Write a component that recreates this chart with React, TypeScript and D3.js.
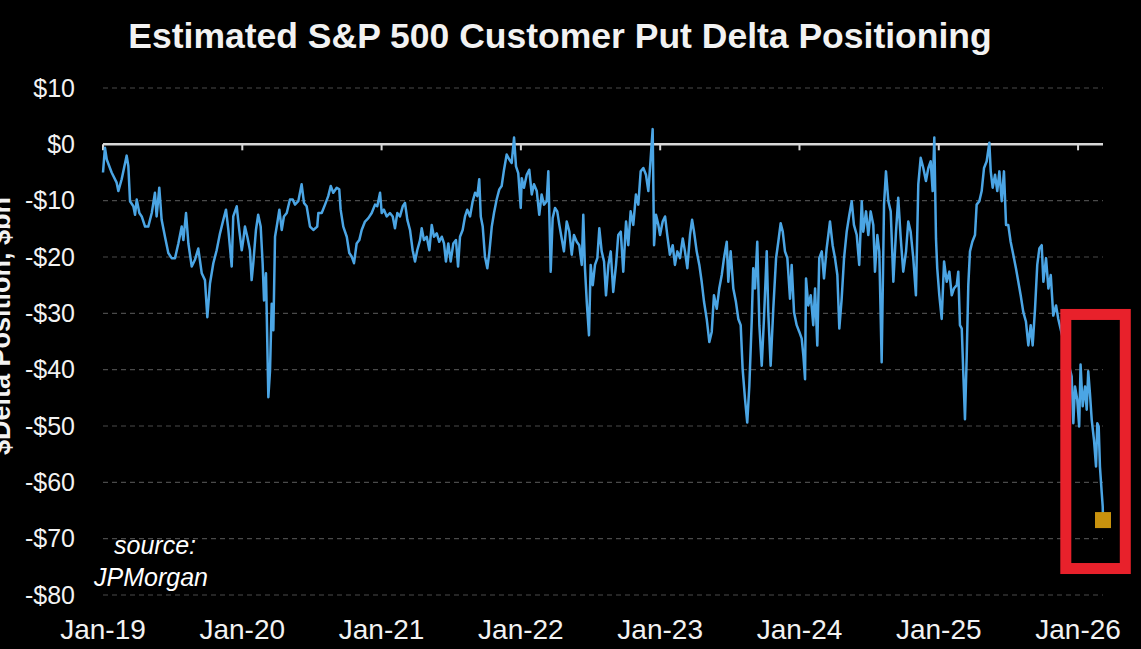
import React, { useEffect, useRef } from 'react';
import * as d3 from 'd3';

type Pt = [number, number]; // [decimal year, $bn]

// Estimated customer put delta
const series2019: Pt[] = [
  [2019.000, -5.0], [2019.014, -0.6], [2019.027, -2.7], [2019.062, -5.0], [2019.098, -6.8],
  [2019.110, -8.3], [2019.134, -6.2], [2019.170, -2.0], [2019.182, -3.9], [2019.194, -10.1],
  [2019.218, -11.0], [2019.230, -12.5], [2019.242, -9.8], [2019.261, -12.2], [2019.278, -12.8],
  [2019.302, -14.6], [2019.325, -14.6], [2019.350, -12.2], [2019.373, -8.6], [2019.385, -12.8],
  [2019.404, -7.7], [2019.421, -13.4], [2019.445, -16.4], [2019.469, -19.3], [2019.493, -20.2],
  [2019.517, -20.2], [2019.541, -17.6], [2019.565, -14.6], [2019.577, -17.0], [2019.596, -12.2],
  [2019.613, -17.6], [2019.637, -21.7], [2019.660, -20.5], [2019.684, -18.5], [2019.709, -22.9],
  [2019.732, -24.1], [2019.749, -30.7], [2019.768, -24.7], [2019.792, -21.1], [2019.816, -18.8],
  [2019.840, -15.8], [2019.864, -13.4], [2019.883, -11.6], [2019.900, -15.2], [2019.924, -21.7],
  [2019.935, -12.8], [2019.960, -11.0], [2019.978, -15.2], [2019.996, -18.8],
];

const series2020: Pt[] = [
  [2020.007, -17.0], [2020.019, -14.6], [2020.036, -16.4], [2020.055, -18.8], [2020.067, -24.1],
  [2020.079, -21.1], [2020.098, -15.2], [2020.114, -12.5], [2020.132, -14.6], [2020.146, -21.1],
  [2020.156, -27.7], [2020.170, -22.9], [2020.187, -44.9], [2020.199, -40.2], [2020.211, -28.3],
  [2020.223, -33.0], [2020.235, -16.4], [2020.251, -14.0], [2020.266, -11.6], [2020.283, -15.2],
  [2020.299, -12.8], [2020.319, -12.2], [2020.342, -9.8], [2020.362, -9.8], [2020.378, -10.7],
  [2020.402, -10.1], [2020.426, -7.1], [2020.443, -10.4], [2020.462, -11.0], [2020.486, -14.6],
  [2020.510, -15.2], [2020.538, -14.6], [2020.546, -12.2], [2020.570, -12.2], [2020.594, -10.7],
  [2020.617, -9.2], [2020.635, -7.4], [2020.653, -8.6], [2020.678, -7.7], [2020.696, -8.0],
  [2020.706, -11.6], [2020.725, -14.6], [2020.750, -16.4], [2020.768, -19.3], [2020.785, -19.9],
  [2020.802, -21.1], [2020.821, -17.6], [2020.840, -17.0], [2020.857, -15.2], [2020.881, -13.7],
  [2020.905, -13.1], [2020.929, -12.2], [2020.953, -10.7], [2020.969, -11.0], [2020.989, -8.6],
];

const series2021: Pt[] = [
  [2021.001, -12.2], [2021.017, -11.6], [2021.037, -12.8], [2021.060, -12.2], [2021.080, -12.8],
  [2021.096, -14.9], [2021.113, -12.2], [2021.132, -12.8], [2021.152, -11.0], [2021.168, -10.4],
  [2021.185, -13.4], [2021.204, -15.2], [2021.223, -18.8], [2021.240, -20.8], [2021.256, -18.8],
  [2021.276, -17.0], [2021.288, -14.9], [2021.304, -17.0], [2021.324, -16.4], [2021.343, -18.8],
  [2021.360, -14.3], [2021.376, -16.4], [2021.396, -15.8], [2021.414, -17.3], [2021.432, -16.4],
  [2021.448, -17.6], [2021.462, -20.8], [2021.479, -17.6], [2021.496, -20.8], [2021.515, -17.6],
  [2021.534, -17.0], [2021.549, -21.7], [2021.563, -16.4], [2021.582, -15.2], [2021.599, -12.8],
  [2021.615, -11.6], [2021.635, -12.8], [2021.654, -10.1], [2021.671, -8.6], [2021.687, -9.2],
  [2021.701, -6.2], [2021.712, -12.8], [2021.726, -14.6], [2021.742, -19.9], [2021.759, -22.0],
  [2021.773, -19.3], [2021.791, -14.6], [2021.807, -12.2], [2021.826, -9.8], [2021.845, -8.0],
  [2021.862, -7.4], [2021.879, -4.5], [2021.898, -1.8], [2021.917, -2.7], [2021.934, -3.3],
  [2021.951, 1.2], [2021.965, -3.9], [2021.981, -5.1], [2021.999, -11.3],
];

const series2022: Pt[] = [
  [2022.006, -6.0], [2022.022, -7.7], [2022.042, -5.4], [2022.060, -4.5], [2022.078, -8.9],
  [2022.094, -7.1], [2022.114, -8.3], [2022.132, -12.5], [2022.149, -8.9], [2022.166, -10.7],
  [2022.185, -10.1], [2022.197, -4.8], [2022.214, -22.6], [2022.228, -13.1], [2022.245, -11.3],
  [2022.261, -11.9], [2022.276, -14.3], [2022.293, -16.7], [2022.309, -19.0], [2022.329, -13.7],
  [2022.348, -15.5], [2022.365, -19.6], [2022.381, -16.1], [2022.401, -17.3], [2022.419, -17.9],
  [2022.437, -21.4], [2022.448, -12.5], [2022.460, -22.0], [2022.473, -28.0], [2022.489, -33.9],
  [2022.501, -21.4], [2022.516, -25.0], [2022.532, -21.4], [2022.549, -20.2], [2022.563, -14.9],
  [2022.580, -19.0], [2022.597, -20.8], [2022.611, -26.8], [2022.628, -21.4], [2022.645, -19.0],
  [2022.663, -26.2], [2022.683, -21.4], [2022.699, -16.1], [2022.717, -15.5], [2022.735, -22.6],
  [2022.755, -13.7], [2022.771, -17.9], [2022.788, -11.9], [2022.807, -14.3], [2022.826, -8.9],
  [2022.843, -10.7], [2022.860, -4.8], [2022.879, -4.2], [2022.898, -5.4], [2022.915, -8.3],
  [2022.932, -2.4], [2022.946, 2.7], [2022.956, -17.9], [2022.970, -12.5], [2022.987, -14.3],
];

const series2023: Pt[] = [
  [2022.999, -16.1], [2023.018, -13.7], [2023.035, -12.8], [2023.051, -16.1], [2023.070, -19.6],
  [2023.090, -17.9], [2023.106, -21.4], [2023.123, -19.0], [2023.142, -20.2], [2023.162, -16.7],
  [2023.178, -19.0], [2023.195, -22.0], [2023.214, -16.1], [2023.229, -13.4], [2023.243, -15.5],
  [2023.262, -19.0], [2023.281, -21.4], [2023.298, -24.4], [2023.315, -28.0], [2023.334, -31.0],
  [2023.353, -35.1], [2023.370, -33.3], [2023.386, -26.8], [2023.406, -29.2], [2023.424, -25.6],
  [2023.442, -23.2], [2023.458, -20.2], [2023.478, -17.3], [2023.489, -24.4], [2023.506, -19.0],
  [2023.525, -25.6], [2023.544, -28.0], [2023.561, -31.0], [2023.578, -32.1], [2023.592, -39.9],
  [2023.609, -45.2], [2023.625, -49.4], [2023.640, -42.9], [2023.657, -31.5], [2023.668, -22.0],
  [2023.681, -25.6], [2023.697, -17.3], [2023.712, -32.1], [2023.729, -39.3], [2023.745, -31.0],
  [2023.765, -19.0], [2023.776, -29.8], [2023.793, -39.3], [2023.812, -29.2], [2023.832, -20.2],
  [2023.848, -17.3], [2023.865, -14.0], [2023.880, -15.5], [2023.896, -19.0], [2023.913, -20.2],
  [2023.932, -27.4], [2023.944, -21.4], [2023.961, -29.8], [2023.980, -32.1], [2023.999, -33.3],
];

const series2024: Pt[] = [
  [2024.016, -34.5], [2024.028, -37.5], [2024.040, -41.7], [2024.047, -23.8], [2024.063, -28.6],
  [2024.081, -26.8], [2024.099, -32.1], [2024.112, -25.6], [2024.128, -35.7], [2024.142, -20.2],
  [2024.160, -19.0], [2024.176, -23.8], [2024.195, -18.5], [2024.219, -13.7], [2024.238, -17.9],
  [2024.255, -20.2], [2024.272, -23.2], [2024.286, -32.7], [2024.303, -27.4], [2024.320, -20.2],
  [2024.339, -15.5], [2024.358, -12.5], [2024.375, -10.1], [2024.391, -14.3], [2024.411, -16.1],
  [2024.429, -21.4], [2024.447, -10.1], [2024.458, -15.5], [2024.478, -11.9], [2024.494, -16.1],
  [2024.511, -11.9], [2024.530, -14.3], [2024.542, -22.6], [2024.559, -16.1], [2024.573, -19.0],
  [2024.590, -38.7], [2024.607, -10.7], [2024.621, -4.8], [2024.638, -10.1], [2024.655, -11.9],
  [2024.674, -24.4], [2024.693, -15.5], [2024.709, -9.5], [2024.727, -16.7], [2024.745, -22.6],
  [2024.765, -19.0], [2024.781, -13.7], [2024.798, -15.5], [2024.817, -20.2], [2024.836, -26.8],
  [2024.853, -7.1], [2024.870, -2.4], [2024.889, -4.2], [2024.908, -6.5], [2024.925, -4.2],
  [2024.942, -3.0], [2024.956, -8.3], [2024.968, 1.2], [2024.980, -16.7], [2024.989, -22.0],
];

const series2025: Pt[] = [
  [2025.004, -26.8], [2025.021, -31.0], [2025.038, -20.8], [2025.057, -24.4], [2025.076, -22.6],
  [2025.093, -26.8], [2025.109, -25.6], [2025.129, -25.0], [2025.140, -22.6], [2025.152, -32.1],
  [2025.165, -32.7], [2025.176, -40.5], [2025.188, -48.8], [2025.200, -38.1], [2025.212, -25.0],
  [2025.224, -19.0], [2025.241, -17.3], [2025.260, -16.1], [2025.272, -10.7], [2025.291, -10.1],
  [2025.308, -8.3], [2025.325, -4.2], [2025.344, -3.0], [2025.363, 0.3], [2025.373, -4.8],
  [2025.387, -7.7], [2025.404, -5.4], [2025.420, -8.3], [2025.435, -4.8], [2025.452, -10.1],
  [2025.468, -4.8], [2025.483, -14.3], [2025.499, -14.3], [2025.516, -17.3], [2025.535, -19.6],
  [2025.554, -22.0], [2025.571, -24.4], [2025.588, -26.8], [2025.607, -29.8], [2025.626, -31.5],
  [2025.643, -35.7], [2025.660, -32.1], [2025.674, -35.7], [2025.691, -29.2], [2025.707, -21.4],
  [2025.722, -18.5], [2025.739, -17.9], [2025.751, -24.4], [2025.770, -20.2], [2025.787, -25.6],
  [2025.804, -23.2], [2025.822, -30.4], [2025.842, -28.6], [2025.858, -31.0], [2025.954, -41.2],
  [2025.966, -49.5], [2025.978, -43.0], [2025.994, -45.3],
];

const series2026: Pt[] = [
  [2026.008, -50.1], [2026.018, -39.1], [2026.033, -46.5], [2026.050, -43.0], [2026.062, -47.1],
  [2026.073, -40.3], [2026.085, -44.1], [2026.098, -48.9], [2026.114, -52.4], [2026.129, -57.2],
  [2026.138, -49.5], [2026.148, -50.1], [2026.157, -57.2], [2026.170, -61.9], [2026.177, -64.3],
  [2026.179, -66.7],
];

const yTicks = [10, 0, -10, -20, -30, -40, -50, -60, -70, -80];
const yTickLabels = ['$10', '$0', '-$10', '-$20', '-$30', '-$40', '-$50', '-$60', '-$70', '-$80'];
const xTickYears = [2019, 2020, 2021, 2022, 2023, 2024, 2025, 2026];
const xTickLabels = ['Jan-19', 'Jan-20', 'Jan-21', 'Jan-22', 'Jan-23', 'Jan-24', 'Jan-25', 'Jan-26'];

// red highlight around the latest move (years / $bn)
const highlightYears = [2025.912, 2026.339];
const highlightValues = [-30.2, -75.3];

const TITLE = 'Estimated S&P 500 Customer Put Delta Positioning';
const Y_LABEL = '$Delta Position, $bn';

const W = 1141;
const H = 649;
const FONT = '"Liberation Sans", Arial, sans-serif';

const App: React.FC = () => {
  const svgRef = useRef<SVGSVGElement>(null);

  useEffect(() => {
    if (!svgRef.current) return;
    const svg = d3.select(svgRef.current);
    svg.selectAll('*').remove();

    const data: Pt[] = [
      ...series2019, ...series2020, ...series2021, ...series2022,
      ...series2023, ...series2024, ...series2025, ...series2026,
    ];
    const last = data[data.length - 1];

    const x = d3.scaleLinear().domain([2019, last[0]]).range([103, 1103]);
    const y = d3.scaleLinear().domain([-80, 10]).range([595, 88]);

    svg.append('rect').attr('width', W).attr('height', H).attr('fill', '#000');

    // dashed gridlines
    svg.append('g')
      .selectAll('line')
      .data(yTicks.filter((v) => v !== 0))
      .join('line')
      .attr('x1', x(2019))
      .attr('x2', x(last[0]))
      .attr('y1', (d) => y(d))
      .attr('y2', (d) => y(d))
      .attr('stroke', '#4a4a4a')
      .attr('stroke-width', 1.2)
      .attr('stroke-dasharray', '5,4');

    // zero axis with year ticks
    const axis = svg.append('g');
    axis.append('line')
      .attr('x1', x(2019)).attr('x2', x(last[0]))
      .attr('y1', y(0)).attr('y2', y(0))
      .attr('stroke', '#d8d8d8').attr('stroke-width', 2.5);
    axis.selectAll('line.tick')
      .data(xTickYears)
      .join('line')
      .attr('class', 'tick')
      .attr('x1', (d) => x(d)).attr('x2', (d) => x(d))
      .attr('y1', y(0)).attr('y2', y(0) + 6)
      .attr('stroke', '#d8d8d8').attr('stroke-width', 2);

    const line = d3.line<Pt>().x((d) => x(d[0])).y((d) => y(d[1]));
    svg.append('path')
      .datum(data)
      .attr('d', line)
      .attr('fill', 'none')
      .attr('stroke', '#4ba5e4')
      .attr('stroke-width', 2.5)
      .attr('stroke-linejoin', 'round');

    // latest value marker
    svg.append('rect')
      .attr('x', x(last[0]) - 8).attr('y', y(last[1]) - 8)
      .attr('width', 16).attr('height', 16)
      .attr('fill', '#c8920e');

    // highlight box
    svg.append('rect')
      .attr('x', x(highlightYears[0]))
      .attr('y', y(highlightValues[0]))
      .attr('width', x(highlightYears[1]) - x(highlightYears[0]))
      .attr('height', y(highlightValues[1]) - y(highlightValues[0]))
      .attr('fill', 'none')
      .attr('stroke', '#e8212b')
      .attr('stroke-width', 11);

    // y tick labels
    svg.append('g')
      .selectAll('text')
      .data(yTicks)
      .join('text')
      .attr('x', 75)
      .attr('y', (d) => y(d))
      .attr('dy', '0.35em')
      .attr('text-anchor', 'end')
      .attr('fill', '#f2f2f2')
      .attr('font-family', FONT)
      .attr('font-size', 25)
      .text((_, i) => yTickLabels[i]);

    // x tick labels
    svg.append('g')
      .selectAll('text')
      .data(xTickYears)
      .join('text')
      .attr('x', (d) => x(d))
      .attr('y', 639)
      .attr('text-anchor', 'middle')
      .attr('fill', '#f2f2f2')
      .attr('font-family', FONT)
      .attr('font-size', 28)
      .text((_, i) => xTickLabels[i]);

    // y axis title, cut by the left edge as in the source image
    svg.append('text')
      .attr('transform', 'translate(10,326) rotate(-90)')
      .attr('text-anchor', 'middle')
      .attr('fill', '#f2f2f2')
      .attr('font-family', FONT)
      .attr('font-weight', 'bold')
      .attr('font-size', 27)
      .text(Y_LABEL);

    // source note
    const src = svg.append('g')
      .attr('fill', '#ffffff')
      .attr('font-family', FONT)
      .attr('font-style', 'italic')
      .attr('font-size', 25);
    src.append('text').attr('x', 114).attr('y', 554).text('source:');
    src.append('text').attr('x', 94).attr('y', 586).text('JPMorgan');

    // title
    svg.append('text')
      .attr('x', 560)
      .attr('y', 48)
      .attr('text-anchor', 'middle')
      .attr('fill', '#f2f2f2')
      .attr('font-family', FONT)
      .attr('font-weight', 'bold')
      .attr('font-size', 35.5)
      .text(TITLE);
  }, []);

  return (
    <svg
      ref={svgRef}
      width={W}
      height={H}
      viewBox={`0 0 ${W} ${H}`}
      style={{ position: 'absolute', left: 0, top: 0, display: 'block' }}
    />
  );
};

export default App;
